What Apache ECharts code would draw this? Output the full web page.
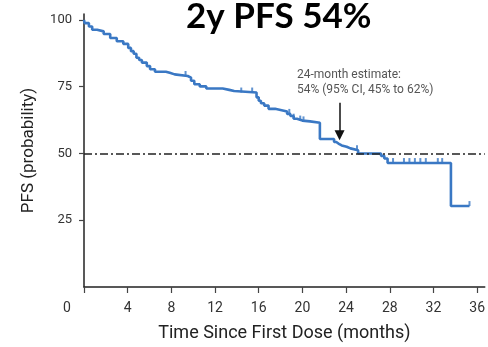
<!DOCTYPE html>
<html>
<head>
<meta charset="utf-8">
<script src="https://cdn.jsdelivr.net/npm/echarts@6/dist/echarts.min.js"></script>
<style>html,body{margin:0;padding:0;background:#fff}#c{width:488px;height:347px}</style>
</head>
<body>
<div id="c"></div>
<script>
// Kaplan-Meier PFS estimate (months, %)
var kmTimes = [0, 0.05, 0.45, 0.75, 1.2, 1.8, 2.4, 3.0, 3.6, 4.05, 4.3, 4.55, 4.8, 5.05, 5.3, 5.75, 6.05, 6.5, 7.5, 7.85, 8.3, 9.5, 9.8, 10.1, 10.6, 11.2, 12.7, 13.3, 13.75, 15.8, 16.0, 16.2, 16.5, 16.9, 17.5, 18.3, 18.6, 18.9, 19.2, 19.5, 20.0, 20.7, 21.6, 22.9, 23.1, 23.3, 23.6, 24.05, 24.4, 25.1, 27.2, 27.5, 27.8, 33.6, 35.3];
var kmSurv  = [100, 98.8, 97.5, 96.3, 95.7, 94.7, 93.2, 92.0, 91.0, 89.5, 88.3, 87.3, 85.8, 85.0, 84.0, 82.7, 81.5, 80.6, 80.2, 79.6, 79.0, 78.4, 77.2, 75.9, 75.1, 74.3, 73.8, 73.4, 72.8, 71.0, 69.7, 68.8, 67.9, 66.7, 66.0, 65.7, 64.8, 64.0, 63.0, 62.3, 62.0, 61.5, 55.4, 54.3, 53.7, 53.0, 52.5, 51.9, 51.2, 50.0, 49.1, 48.1, 46.4, 30.3, 30.3];
// censored observations
var censorTimes = [9.3, 14.4, 15.4, 18.8, 19.2, 19.8, 20.1, 25.0, 28.3, 29.3, 29.8, 30.3, 30.8, 31.3, 32.4, 32.8, 35.3];
var censorSurv  = [79.0, 72.8, 72.8, 64.8, 63.0, 62.3, 62.0, 51.2, 46.4, 46.4, 46.4, 46.4, 46.4, 46.4, 46.4, 46.4, 30.3];
// axis ticks
var xTicks = [0, 4, 8, 12, 16, 20, 24, 28, 32, 36];
var yTicks = [25, 50, 75, 100];
var refLevel = 50;
var arrowTime = 23.4, arrowFrom = 69, arrowTo = 56.8;
var titleText = '2y PFS 54%';
var noteText = '24-month estimate:\n54% (95% CI, 45% to 62%)';

var kmData = kmTimes.map(function (t, i) { return [t, kmSurv[i]]; });
var censorData = censorTimes.map(function (t, i) { return [t, censorSurv[i]]; });

var chart = echarts.init(document.getElementById('c'), null, {renderer: 'canvas'});
chart.setOption({
  animation: false,
  backgroundColor: '#fff',
  title: {
    text: titleText, left: 181, top: -6,
    textStyle: {fontFamily: 'Lato', fontWeight: 'bold', fontSize: 35, color: '#000'}
  },
  graphic: [{
    type: 'text', left: 297, top: 67,
    style: {text: noteText, font: '12px Roboto', fill: '#555', lineHeight: 15}
  }],
  grid: {left: 84, right: 0, top: 14, bottom: 57},
  xAxis: {
    type: 'value', min: 0, max: 36.7,
    name: 'Time Since First Dose (months)', nameLocation: 'middle', nameGap: 37,
    nameTextStyle: {fontFamily: 'Roboto', fontSize: 18, color: '#222'},
    axisLine: {lineStyle: {color: '#222', width: 1.5}},
    axisTick: {customValues: xTicks, length: 6, lineStyle: {color: '#444', width: 1.2}},
    axisLabel: {
      customValues: xTicks, margin: 14,
      fontFamily: 'Roboto', fontSize: 14, color: '#333',
      formatter: function (v) { return v === 0 ? '{z|0}' : String(v); },
      rich: {z: {fontFamily: 'Roboto', fontSize: 14, color: '#333', padding: [0, 34, 0, 0]}}
    },
    splitLine: {show: false}
  },
  yAxis: {
    type: 'value', min: 0, max: 102.2,
    name: 'PFS (probability)', nameLocation: 'middle', nameGap: 47,
    nameTextStyle: {fontFamily: 'Roboto', fontSize: 17, color: '#222'},
    axisLine: {show: true, lineStyle: {color: '#222', width: 1.5}},
    axisTick: {show: true, customValues: yTicks, length: 5, lineStyle: {color: '#444', width: 1.2}},
    axisLabel: {customValues: yTicks, margin: 12, fontFamily: 'Roboto', fontSize: 13, color: '#333'},
    splitLine: {show: false}
  },
  series: [{
    type: 'line', data: kmData, step: 'end', showSymbol: false, symbol: 'none',
    lineStyle: {color: '#3a78c4', width: 2.6},
    z: 3,
    markLine: {
      silent: true, symbol: 'none', label: {show: false},
      lineStyle: {color: '#222', width: 1.6, type: [8, 3, 2, 3]},
      data: [{yAxis: refLevel}]
    }
  }, {
    type: 'scatter', data: censorData,
    symbol: 'rect', symbolSize: [2, 5], symbolOffset: [0, -2.5],
    itemStyle: {color: '#3a78c4'}, z: 4
  }, {
    type: 'line', data: [], z: 5,
    markLine: {
      silent: true, symbol: ['none', 'triangle'], symbolSize: 10, symbolRotate: 180,
      label: {show: false},
      lineStyle: {color: '#111', width: 1.5, type: 'solid'},
      itemStyle: {color: '#111'},
      data: [[{coord: [arrowTime, arrowFrom]}, {coord: [arrowTime, arrowTo]}]]
    }
  }]
});
</script>
</body>
</html>
